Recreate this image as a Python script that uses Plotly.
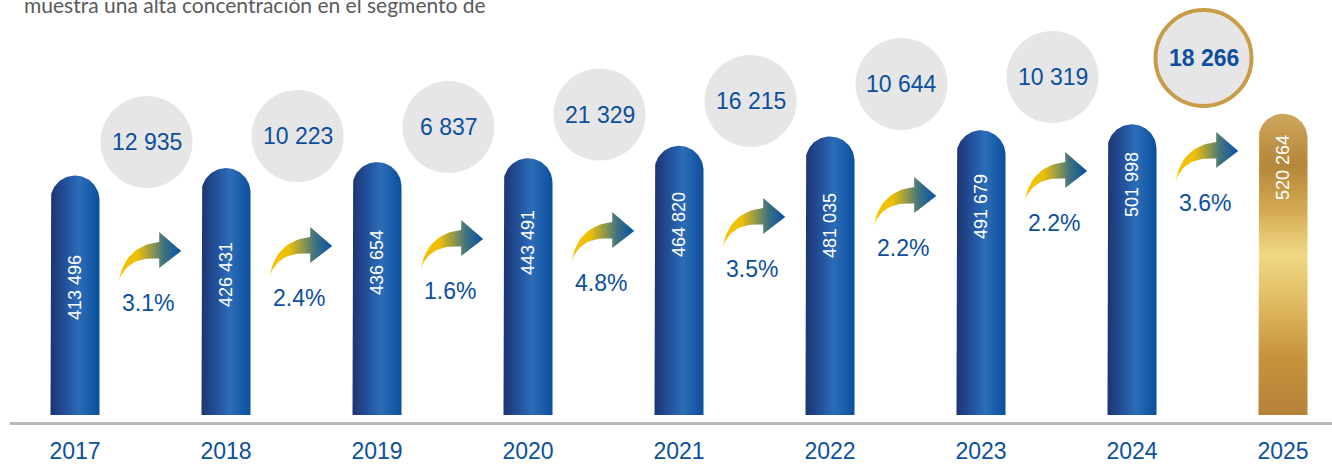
import numpy as np
import plotly.graph_objects as go

# ---------------- data ----------------
years = ['2017', '2018', '2019', '2020', '2021', '2022', '2023', '2024', '2025']
totals = [413496, 426431, 436654, 443491, 464820, 481035, 491679, 501998, 520264]
increments = [12935, 10223, 6837, 21329, 16215, 10644, 10319, 18266]
growth = [3.1, 2.4, 1.6, 4.8, 3.5, 2.2, 2.2, 3.6]
top_text = 'muestra una alta concentración en el segmento de'

# layout helpers (pixel rows, from top of the page)
circle_px = [142, 136, 127, 114.5, 101, 84, 77, 58]
arrow_px = [282, 277, 270, 262, 248, 227, 202, 182]
label_px = [288, 275, 263, 243, 225, 226, 207, 185, 168]

W, H = 1332, 465
BASE = 415      # pixel row of zero
AXIS = 422      # pixel row of the grey line
K = 1727        # data units per pixel (vertical)
X0, STEP = 75, 151  # pixel x of first bar, pixels per category

BLUE_TXT = '#0b4f9e'
FONT = 'Liberation Sans'


def fmt(v):
    return f'{v:,}'.replace(',', ' ')


def ypx(p):
    return (BASE - p) * K


blue_grad = [[0, '#1e3470'], [0.3, '#23509a'], [0.58, '#2c6db8'], [1, '#0a4f9d']]
gold_grad = [[0, '#b5823a'], [0.2, '#c8943c'], [0.35, '#dcb65c'], [0.53, '#f2d985'],
             [0.68, '#d3aa52'], [0.83, '#b4873a'], [1, '#cfa65c']]
arrow_grad = [[0, '#f7c300'], [0.3, '#eebf08'], [0.55, '#8a9550'], [0.72, '#41737f'], [1, '#0550a5']]

fig = go.Figure()

# bars with rounded tops
rx = 24.5 / STEP
ry = 24.5 * K
for i, v in enumerate(totals):
    xs = [i - rx, i - rx]
    ys = [0, v - ry]
    for t in np.linspace(np.pi, 0, 41):
        xs.append(i + rx * np.cos(t))
        ys.append(v - ry + ry * np.sin(t))
    xs += [i + rx, i - rx]
    ys += [0, 0]
    last = i == len(totals) - 1
    fig.add_trace(go.Scatter(
        x=xs, y=ys, mode='lines', fill='toself',
        line=dict(width=0, color='rgba(0,0,0,0)'),
        fillgradient=dict(type='vertical' if last else 'horizontal',
                          colorscale=gold_grad if last else blue_grad),
        hoverinfo='skip', showlegend=False))
    fig.add_annotation(x=i, y=ypx(label_px[i]), xref='x', yref='y',
                       text=fmt(v), textangle=-90, showarrow=False,
                       font=dict(family=FONT, size=18, color='white'))

# curved growth arrows (local pixel outline, tail at origin, y up)
def bez(p0, p1, p2, n=20):
    t = np.linspace(0, 1, n)[:, None]
    return (1 - t) ** 2 * np.array(p0) + 2 * (1 - t) * t * np.array(p1) + t ** 2 * np.array(p2)

upper = bez((0, 0), (6, 36), (40.7, 40))
lower = bez((40.7, 23.4), (8, 26), (0, 0))
head = np.array([(40.7, 50), (62.7, 31), (40.7, 14)])
outline = np.vstack([upper, head, lower])

for i, g in enumerate(growth):
    tx = X0 + STEP * i + 43.5
    ty = arrow_px[i]
    ax = [(tx + px - X0) / STEP for px in outline[:, 0]]
    ay = [ypx(ty - py) for py in outline[:, 1]]
    fig.add_trace(go.Scatter(
        x=ax, y=ay, mode='lines', fill='toself',
        line=dict(width=0, color='rgba(0,0,0,0)'),
        fillgradient=dict(type='horizontal', colorscale=arrow_grad),
        hoverinfo='skip', showlegend=False))
    fig.add_annotation(x=(tx + 1 - X0) / STEP, y=ypx(ty + 21), xref='x', yref='y',
                       text=f'{g}%', xanchor='left', showarrow=False,
                       font=dict(family=FONT, size=23, color=BLUE_TXT))

# increment bubbles
for i, inc in enumerate(increments):
    cx = i + 0.5 - 4 / STEP
    cy = ypx(circle_px[i])
    last = i == len(increments) - 1
    r = 48 if last else 46
    fig.add_shape(type='circle', xref='x', yref='y', xsizemode='pixel', ysizemode='pixel',
                  xanchor=cx, yanchor=cy, x0=-r, x1=r, y0=-r, y1=r,
                  fillcolor='#e6e6e6', layer='below',
                  line=dict(color='#c99c48' if last else 'rgba(0,0,0,0)', width=4 if last else 0))
    fig.add_annotation(x=cx, y=cy, xref='x', yref='y',
                       text=f'<b>{fmt(inc)}</b>' if last else fmt(inc), showarrow=False,
                       font=dict(family=FONT, size=23, color=BLUE_TXT))

# cut-off sentence at the top of the page
fig.add_annotation(x=22 / W, y=1 - 19 / H, xref='paper', yref='paper',
                   xanchor='left', yanchor='bottom', text=top_text, showarrow=False,
                   font=dict(family='Lato', size=21, color='#5a5a5a'))

fig.update_layout(
    width=W, height=H,
    margin=dict(l=0, r=0, t=0, b=0),
    paper_bgcolor='white', plot_bgcolor='white',
    xaxis=dict(domain=[10 / W, 1], range=[(10 - X0) / STEP, (W - X0) / STEP],
               tickmode='array', tickvals=list(range(len(years))), ticktext=years,
               ticks='outside', ticklen=6, tickcolor='rgba(0,0,0,0)',
               tickfont=dict(family=FONT, size=23, color=BLUE_TXT),
               showline=True, linecolor='#b8b8b8', linewidth=3,
               showgrid=False, zeroline=False, fixedrange=True),
    yaxis=dict(domain=[(H - AXIS) / H, 1], range=[ypx(AXIS), ypx(0)],
               visible=False, showgrid=False, zeroline=False, fixedrange=True),
)

fig.write_html('out.html', config={'displayModeBar': False},
               post_script="document.body.style.margin='0';")
